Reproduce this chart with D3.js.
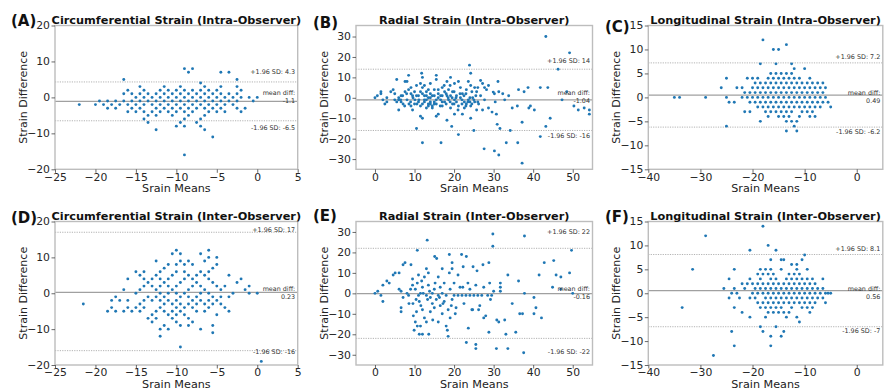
<!DOCTYPE html>
<html><head><meta charset="utf-8">
<script src="https://cdn.jsdelivr.net/npm/d3@7"></script>
<style>body{margin:0;background:#fff}svg text{font-family:"DejaVu Sans",sans-serif}</style>
</head><body><svg id="c" width="885" height="392"></svg>
<script>
// ---------------- DATA ----------------
const panelLetters = ["(A)","(B)","(C)","(D)","(E)","(F)"];
const panelTitles = [
  "Circumferential Strain (Intra-Observer)",
  "Radial Strain (Intra-Observer)",
  "Longitudinal Strain (Intra-Observer)",
  "Circumferential Strain (Inter-Observer)",
  "Radial Strain (Inter-Observer)",
  "Longitudinal Strain (Inter-Observer)"
];
const xAxisLabel = "Srain Means";
const yAxisLabel = "Strain Difference";
const meanDiffs = [-1.1, -1.04, 0.49, 0.23, -0.16, 0.56];
const upperLoA  = [4.3, 14, 7.2, 17, 22, 8.1];
const lowerLoA  = [-6.5, -16, -6.2, -16, -22, -7];
const meanLabels  = ["-1.1", "-1.04", "0.49", "0.23", "-0.16", "0.56"];
const upperLabels = ["+1.96 SD: 4.3", "+1.96 SD: 14", "+1.96 SD: 7.2", "+1.96 SD: 17", "+1.96 SD: 22", "+1.96 SD: 8.1"];
const lowerLabels = ["-1.96 SD: -6.5", "-1.96 SD: -16", "-1.96 SD: -6.2", "-1.96 SD: -16", "-1.96 SD: -22", "-1.96 SD: -7"];

const xTicksCirc = [-25, -20, -15, -10, -5, 0, 5];
const yTicksCirc = [-20, -10, 0, 10, 20];
const xTicksRad  = [0, 10, 20, 30, 40, 50];
const yTicksRad  = [-30, -20, -10, 0, 10, 20, 30];
const xTicksLong = [-40, -30, -20, -10, 0];
const yTicksLong = [-15, -10, -5, 0, 5, 10, 15];

// (mean, difference) pairs
const pointsA = [[-22,-2],[-20,-2],[-19.5,-1],[-19,-2],[-18.5,-1],[-18.5,-3],[-18,-2],[-17.5,-1],[-17.5,-3],[-17,-2],
[-16.5,5],[-16.5,1],[-16.5,-1],[-16,2],[-16,-2],[-16,-4],[-15.5,1],[-15.5,-1],[-15.5,-3],[-15,0],[-15,-2],[-15,-4],
[-14.5,3],[-14.5,1],[-14.5,-1],[-14.5,-3],[-14,2],[-14,0],[-14,-2],[-14,-4],[-14,-6],[-13.5,1],[-13.5,-1],[-13.5,-5],[-13.5,-7],
[-13,0],[-13,-2],[-13,-4],[-12.5,1],[-12.5,-1],[-12.5,-3],[-12.5,-5],[-12.5,-9],[-12,2],[-12,0],[-12,-2],[-12,-4],
[-11.5,3],[-11.5,1],[-11.5,-1],[-11.5,-3],[-11,2],[-11,0],[-11,-2],[-11,-4],[-10.5,1],[-10.5,-1],[-10.5,-3],[-10.5,-5],
[-10,2],[-10,0],[-10,-2],[-10,-4],[-10,-8],[-9.5,3],[-9.5,1],[-9.5,-1],[-9.5,-3],[-9.5,-7],
[-9,8],[-9,2],[-9,0],[-9,-2],[-9,-4],[-9,-6],[-9,-8],[-9,-16],[-8.5,7],[-8.5,1],[-8.5,-1],[-8.5,-3],[-8.5,-5],
[-8,8],[-8,2],[-8,0],[-8,-2],[-8,-4],[-7.5,1],[-7.5,-1],[-7.5,-3],[-7.5,-7],[-7,4],[-7,2],[-7,0],[-7,-2],[-7,-6],[-7,-8],
[-6.5,3],[-6.5,1],[-6.5,-1],[-6.5,-3],[-6.5,-5],[-6.5,-9],[-6,2],[-6,0],[-6,-2],[-6,-4],[-5.5,1],[-5.5,-1],[-5.5,-3],[-5.5,-11],
[-5,2],[-5,0],[-5,-2],[-5,-4],[-4.5,7],[-4.5,3],[-4.5,1],[-4.5,-1],[-4.5,-3],[-4,0],[-4,-2],[-4,-4],[-3.5,7],[-3.5,1],[-3.5,-1],
[-3,0],[-3,-2],[-2.5,5],[-2.5,3],[-2.5,1],[-2.5,-1],[-2.5,-3],[-2,2],[-2,0],[-2,-4],[-1.5,-3],[-1,0],[-0.5,-1],[0,0]];

const pointsB = [[0,0],[0.6,1],[1.5,2],[1.5,3],[2,-1],[2.5,-3],[3,-2],[3,0],[4,3],[4.6,4],[5,-1],[5,2],[5.5,9],[5.5,-2],[6,-1],[6,-6],[6,0],
[6.6,1],[6.6,-2],[6.5,-1],[7,1],[7.1,-3],[7.5,-4],[7.6,3],[7.6,8],[8.1,8],[8,2],[8.1,-1],[8.5,11],[8.5,4],[8.6,-3],[9,-2],[9.1,5],[9.1,2],[9.1,-4],
[9.5,-6],[9.5,1],[9.6,0],[10,3],[10,-3],[10.1,-1],[10.5,1],[10.5,6],[10.5,-15],[10.6,-3],[11,-2],[11,1],[11.1,-1],[11.5,7],[11.5,3],[11.5,-4],[11.5,-9],
[11.8,12],[12,10],[12,5],[12,2],[12,-3],[12,-10],[12,-22],[12.5,-1],[12.5,-2],[12.5,1],[12.5,6],[13,1],[13,-5],[13,3],[13,-1],[13.5,4],[13.5,-3],[13.5,-4],[13.5,0],
[14,7],[14,0],[14,-2],[14,2],[14,-3],[14.5,-4],[14.5,1],[14.5,-5],[15,1],[15,-3],[15,-2],[15,4],[15.5,11],[15.5,9],[15.5,-1],[15.5,-3],[15.5,-9],
[16,4],[16,-8],[16,0],[16,2],[16.6,1],[16.6,-1],[16.5,-4],[16.7,-22],[17,5],[17,-4],[17,1],[17,-2],[17.6,3],[17.6,-2],[17.5,6],[18.2,8],[18.2,1],[18,-3],[18,2],[18.2,-11],
[18.6,4],[18.6,-1],[18.5,0],[19.1,10],[19.1,1],[19.1,-5],[19,-2],[19,6],[19.4,-14],[19.6,3],[19.6,-3],[19.5,0],[20.1,7],[20.1,-1],[20.1,-8],[20,-3],[20,3],
[20.6,1],[20.6,-2],[20.5,0],[21.1,8],[21.1,-4],[21.1,-18],[21,-6],[21.6,5],[21.6,0],[21.5,2],[22.1,2],[22.1,-8],[22,-1],[22,-3],[22.6,-2],[22.6,-5],[22.5,1],
[23.1,4],[23.1,-3],[23,-4],[23,2],[23.6,8],[23.6,-1],[23.5,-2],[23.9,16],[24.2,12],[24.2,6],[24.2,-4],[24.2,-10],[24,0],[24,-2],[24.7,0],[24.5,-3],[24.5,3],
[25,-16],[25.2,5],[25.2,-2],[25,-1],[25.7,3],[25.7,-6],[25.5,1],[26.2,-3],[26,-2],[26,5],[26.7,8.5],[26.7,1],[27.2,7],[27.2,-6],[27.6,-25],[27.7,5],[27.7,-1],
[28.2,4],[28.7,6],[28.7,-5],[29.6,-7],[29.9,2.8],[30.2,2],[30.2,-26],[30.4,-2],[30.7,-8],[30.9,-13],[31.1,8],[31.3,3],[31.3,-28],[31.6,-15],[32.3,2],[32.8,-1],
[33.2,-22],[33.8,1],[34.2,-16],[34.7,-5],[36,-4],[36.1,-22],[36.3,4],[37.2,-12],[37.2,-32],[37.7,3],[38.7,5],[38.9,-5],[39.3,-4],[40.3,-6],
[41.8,5],[41.8,-19],[43.2,30],[43.2,-14],[43.7,5],[44.3,-10],[46.3,14],[47.3,-1],[48.5,3],[49.2,22],[50.3,-4],[51.4,-6],[52.9,-5],[54.2,-6],[54.2,-8]];

const pointsC = [[-35,0],[-34,0],[-29,0],[-26,2],[-25,4],[-25,0],[-25,-6],[-24.5,-1],[-23.5,-1],[-23,2],[-22,2],[-22,0],[-21.5,1],[-21.5,-3],
[-21,4],[-21,0],[-20.5,1],[-20.5,-1],[-20.5,-3],[-20,4],[-20,2],[-20,0],[-19.5,3],[-19.5,1],[-19.5,-1],[-19,4],[-19,2],[-19,0],[-19,-2],
[-18.5,7],[-18.5,3],[-18.5,1],[-18.5,-1],[-18.5,-5],[-18,12],[-18,2],[-18,0],[-18,-2],[-17.5,3],[-17.5,1],[-17.5,-1],[-17.5,-3],
[-17,4],[-17,2],[-17,0],[-17,-2],[-17,-4],[-16.5,5],[-16.5,3],[-16.5,1],[-16.5,-1],[-16.5,-3],[-16,10],[-16,4],[-16,2],[-16,0],[-16,-2],
[-15.5,7],[-15.5,5],[-15.5,3],[-15.5,1],[-15.5,-1],[-15.5,-3],[-15,10],[-15,4],[-15,2],[-15,0],[-15,-2],[-15,-4],
[-14.5,5],[-14.5,3],[-14.5,1],[-14.5,-1],[-14.5,-3],[-14,4],[-14,2],[-14,0],[-14,-2],[-14,-4],
[-13.5,11],[-13.5,5],[-13.5,3],[-13.5,1],[-13.5,-1],[-13.5,-3],[-13.5,-5],[-13.5,-7],[-13,4],[-13,2],[-13,0],[-13,-2],[-13,-4],
[-12.5,7],[-12.5,5],[-12.5,3],[-12.5,1],[-12.5,-1],[-12.5,-3],[-12.5,-5],[-12,6],[-12,4],[-12,2],[-12,0],[-12,-2],[-12,-6],
[-11.5,3],[-11.5,1],[-11.5,-1],[-11.5,-5],[-11.5,-7],[-11,4],[-11,2],[-11,0],[-11,-2],[-11,-4],[-10.5,3],[-10.5,1],[-10.5,-1],[-10.5,-3],
[-10,6],[-10,2],[-10,0],[-10,-2],[-9.5,3],[-9.5,1],[-9.5,-1],[-9.5,-3],[-9,4],[-9,2],[-9,0],[-9,-2],[-9,-4],
[-8.5,3],[-8.5,1],[-8.5,-1],[-8.5,-3],[-8,2],[-8,0],[-8,-2],[-8,-4],[-7.5,3],[-7.5,1],[-7.5,-1],[-7,2],[-7,0],[-7,-2],
[-6.5,3],[-6.5,1],[-6.5,-1],[-6,2],[-6,0],[-5.5,-1],[-5,-2]];

const pointsD = [[-21.5,-3],[-18.5,-5],[-18,-2],[-18,-4],[-17.5,-1],[-17.5,-5],[-17,-2],[-16.5,1],[-16.5,-5],[-16,4],[-16,-2],[-16,-4],[-15.5,-5],
[-15,6],[-15,0],[-15,-4],[-14.5,5],[-14.5,1],[-14.5,-3],[-14.5,-5],[-14,6],[-14,4],[-14,2],[-14,-2],[-14,-4],[-13.5,3],[-13.5,-1],[-13.5,-7],
[-13,4],[-13,2],[-13,-2],[-13,-6],[-13,-8],[-12.5,9],[-12.5,5],[-12.5,1],[-12.5,-1],[-12.5,-5],[-12.5,-7],
[-12,6],[-12,4],[-12,2],[-12,0],[-12,-2],[-12,-4],[-12,-10],[-12,-12],[-11.5,7],[-11.5,3],[-11.5,-1],[-11.5,-3],[-11.5,-5],[-11.5,-9],
[-11,8],[-11,4],[-11,2],[-11,0],[-11,-2],[-11,-6],[-11,-10],[-10.5,11],[-10.5,5],[-10.5,1],[-10.5,-3],[-10.5,-5],[-10.5,-7],
[-10,12],[-10,8],[-10,6],[-10,2],[-10,0],[-10,-2],[-10,-4],[-10,-6],[-10,-8],[-9.5,11],[-9.5,9],[-9.5,3],[-9.5,-1],[-9.5,-3],[-9.5,-5],[-9.5,-9],[-9.5,-15],
[-9,8],[-9,6],[-9,4],[-9,0],[-9,-4],[-9,-6],[-8.5,9],[-8.5,5],[-8.5,1],[-8.5,-1],[-8.5,-3],[-8.5,-7],[-8.5,-9],
[-8,8],[-8,4],[-8,2],[-8,-2],[-8,-4],[-8,-8],[-7.5,5],[-7.5,3],[-7.5,-1],[-7.5,-3],[-7.5,-5],
[-7,11],[-7,6],[-7,2],[-7,0],[-7,-2],[-7,-10],[-6.5,9],[-6.5,5],[-6.5,1],[-6.5,-3],[-6.5,-5],
[-6,12],[-6,10],[-6,6],[-6,4],[-6,0],[-6,-2],[-6,-4],[-5.5,7],[-5.5,3],[-5.5,-1],[-5.5,-3],[-5.5,-9],[-5.5,-11],
[-5,10],[-5,8],[-5,2],[-5,-2],[-5,-6],[-4.5,1],[-4.5,-1],[-4.5,-3],[-4,2],[-4,-4],[-3.5,5],[-3.5,-1],[-3.5,-5],
[-3,0],[-2.5,3],[-2,4],[-1.5,1],[-1,2],[-1,0],[0,0],[0.5,-19]];

const pointsE = [[0,0],[0.7,1],[1.5,-1],[2,-4],[2,4],[3,6],[3.6,5],[4.6,9],[5.1,10],[6.1,10],[6.6,-7],[6.6,-9],[6.1,2],[6.6,1],[7.1,14],[7.6,15],
[7.1,-2],[8.1,0],[8.6,-5],[8.5,-1],[9.1,14],[9.5,7],[9.5,4],[9.7,-11],[9.9,-18],[9.6,-5],[9,2],[10.2,-14],[10.2,2],[10.7,21],[10.7,5],[10.7,-16],
[10.5,-9],[10.4,-3],[11,9],[11,-1],[11.2,-20],[11.2,-4],[11.5,-16],[11.5,0],[11.8,6],[11.6,-6],[12,-20],[12,-8],[12,3],[12.2,0],[12.5,-12],[12.5,8],
[13,12],[13.2,26],[13,-14],[13,-1],[13.3,-3],[13.6,-20],[13.5,10],[13.5,4],[13.8,1],[14,-2],[14,-9],[14.5,0],[14.5,-5],[14.6,-13],[15.1,18],[15.6,17],
[15,-7],[15,2],[15.5,-3],[15.2,5],[16,8],[16,-1],[16,-14],[16.5,3],[16.5,-6],[16.3,-2],[17,12],[17,0],[17,-10],[17.2,-5],[17.5,-4],[17.5,5],
[18,-1],[18,-16],[18.5,-21],[18.5,-8],[18.3,-18],[18.8,19],[18.8,10],[19,2],[19,-12],[19.3,-6],[19.5,15],[19.5,12],[19.5,-3],[20,-1],[20,5],
[20.5,-7],[20.3,-10],[21,-1],[21,9],[21.5,3],[21.9,19],[22,-1],[22.3,13],[22.5,-5],[22.2,3],[23.1,18],[23,-1],[23.1,-24],[23.6,-17],[23.5,5],
[24,-1],[24,2],[24.5,-8],[24.8,13],[24.7,-8],[25,-1],[25.5,-25],[25.5,-27],[25.8,11],[25.5,4],[26,-1],[26.5,-6],[26.2,-8],[27.3,14],[27,-1],
[27.5,3],[27.5,-12],[28,-11],[28.8,15],[28.8,-19],[28.5,-1],[29,5],[29.2,-3],[29.8,29],[29.8,23],[29.5,-1],[30,1],[30.7,-27],[30.8,-13],
[31.3,-14],[31.7,5],[31.7,3],[31.7,1],[32.8,-13],[33.1,-20],[33.6,9],[33.6,-27],[34.7,-5],[35.6,-19],[36.3,6],[36.6,-10],[37.3,-10],
[37.6,-29],[37.8,28],[37.8,0],[40.2,-2],[40.7,-7],[40.2,-10],[41.5,9],[42.1,-12],[42.8,15],[44.9,3],[45.2,16],[45.8,9],[47,8],[47,2],
[49.2,10],[49.7,21],[50,0]];

const pointsF = [[-33.5,-3],[-31.5,5],[-29,12],[-27.5,-13],[-25.5,1],[-24.5,3],[-24.5,-1],[-24,0],[-24,-8],[-23.5,5],[-23.5,1],[-23.5,-3],[-23.5,-11],
[-23,0],[-22.5,-1],[-22,2],[-22,-4],[-21.5,1],[-21,2],[-20.5,9],[-20.5,3],[-20.5,-1],[-20.5,-5],[-20,2],[-20,0],[-19.5,1],[-19.5,-1],
[-19,4],[-19,2],[-19,0],[-19,-2],[-18.5,5],[-18.5,3],[-18.5,1],[-18.5,-3],[-18.5,-7],[-18,14],[-18,4],[-18,2],[-18,0],[-18,-2],[-18,-8],
[-17.5,5],[-17.5,1],[-17.5,-1],[-17.5,-3],[-17.5,-5],[-17,10],[-17,4],[-17,2],[-17,0],[-17,-2],[-17,-4],
[-16.5,7],[-16.5,5],[-16.5,3],[-16.5,1],[-16.5,-1],[-16.5,-3],[-16.5,-9],[-16.5,-11],[-16,4],[-16,2],[-16,0],[-16,-2],[-16,-4],
[-15.5,9],[-15.5,3],[-15.5,1],[-15.5,-1],[-15.5,-3],[-15.5,-7],[-15,2],[-15,0],[-15,-2],[-15,-4],
[-14.5,7],[-14.5,5],[-14.5,1],[-14.5,-1],[-14.5,-3],[-14.5,-9],[-14,7],[-14,2],[-14,0],[-14,-2],[-14,-4],[-14,-8],
[-13.5,3],[-13.5,1],[-13.5,-1],[-13.5,-5],[-13,4],[-13,2],[-13,0],[-13,-2],[-13,-4],[-12.5,6],[-12.5,3],[-12.5,1],[-12.5,-1],[-12.5,-3],
[-12,4],[-12,2],[-12,0],[-12,-2],[-11.5,6],[-11.5,5],[-11.5,3],[-11.5,1],[-11.5,-1],[-11.5,-5],[-11,4],[-11,2],[-11,0],[-11,-2],[-11,-6],
[-10.5,7],[-10.5,3],[-10.5,1],[-10.5,-1],[-10.5,-3],[-10,8],[-10,2],[-10,0],[-10,-2],[-9.5,5],[-9.5,3],[-9.5,1],[-9.5,-1],[-9.5,-3],
[-9,2],[-9,0],[-9,-2],[-9,-4],[-8.5,3],[-8.5,1],[-8.5,-1],[-8.5,-3],[-8,2],[-8,0],[-8,-2],[-7.5,1],[-7.5,-1],[-7,0],
[-6.5,3],[-6.5,1],[-6.5,-1],[-6,0],[-6,-2],[-5.5,0],[-5,0]];

// ---------------- LAYOUT ----------------
const rowBox = [{top: 25.5, bottom: 169.3}, {top: 221.5, bottom: 365}];
const colBox = [{left: 55, right: 297.7}, {left: 356, right: 592.5}, {left: 648.3, right: 882.8}];
const colDomains = [
  {x: [-25, 5], xt: xTicksCirc},
  {x: [-4.8, 55], xt: xTicksRad},
  {x: [-40, 5], xt: xTicksLong}
];
const yDomains = [[-20, 20], [-35.0, 35.4], [-15, 15], [-20, 20], [-35.0, 35.1], [-15, 15]];
const yTickSets = [yTicksCirc, yTicksRad, yTicksLong, yTicksCirc, yTicksRad, yTicksLong];
const allPoints = [pointsA, pointsB, pointsC, pointsD, pointsE, pointsF];
// annotation text centres (data units)
const upperTextAt = [7.2, 17.9, 8.5, 17.6, 30, 9.2];
const lowerTextAt = [-8.4, -18.9, -7.3, -16.3, -28.7, -7.9];
const letterPos = [[11, 25.5], [313, 28], [605, 31.5], [11, 222.5], [313, 221], [605, 222]];

const svg = d3.select("#c");
const FONT = '"DejaVu Sans", sans-serif';

for (let i = 0; i < 6; i++) {
  const r = Math.floor(i / 3), c = i % 3;
  const box = {...rowBox[r], ...colBox[c]};
  const x = d3.scaleLinear().domain(colDomains[c].x).range([box.left, box.right]);
  const y = d3.scaleLinear().domain(yDomains[i]).range([box.bottom, box.top]);
  const g = svg.append("g");

  // reference lines
  g.append("line").attr("x1", box.left).attr("x2", box.right)
    .attr("y1", y(meanDiffs[i])).attr("y2", y(meanDiffs[i]))
    .attr("stroke", "#a0a0a0").attr("stroke-width", 1.2);
  [upperLoA[i], lowerLoA[i]].forEach(v => {
    g.append("line").attr("x1", box.left).attr("x2", box.right)
      .attr("y1", y(v)).attr("y2", y(v))
      .attr("stroke", "#a0a0a0").attr("stroke-width", 0.8).attr("stroke-dasharray", "1.2,1.2");
  });

  // points
  g.append("g").selectAll("circle").data(allPoints[i]).join("circle")
    .attr("cx", d => x(d[0])).attr("cy", d => y(d[1])).attr("r", 1.45)
    .attr("fill", "#1f77b4");

  // frame
  g.append("rect").attr("x", box.left).attr("y", box.top)
    .attr("width", box.right - box.left).attr("height", box.bottom - box.top)
    .attr("fill", "none").attr("stroke", "#bdbdbd").attr("stroke-width", 1.4);

  // axes
  const fmt = d => (d < 0 ? "\u2212" + Math.abs(d) : "" + d);
  const xa = g.append("g").attr("transform", `translate(0,${box.bottom})`)
    .call(d3.axisBottom(x).tickValues(colDomains[c].xt).tickFormat(fmt).tickSize(3.5).tickPadding(0.3));
  const ya = g.append("g").attr("transform", `translate(${box.left},0)`)
    .call(d3.axisLeft(y).tickValues(yTickSets[i]).tickFormat(fmt).tickSize(3.5).tickPadding(1.5));
  [xa, ya].forEach(a => {
    a.select(".domain").remove();
    a.selectAll(".tick line").attr("stroke", "#444").attr("stroke-width", 0.8);
    a.selectAll(".tick text").attr("fill", "#262626").style("font-size", "10.8px").style("font-family", FONT);
  });

  // annotations
  const ax = box.right - 2.5;
  const mid = (box.top + box.bottom) / 2;
  const ann = (txt, yy) => g.append("text").attr("x", ax).attr("y", yy)
    .attr("text-anchor", "end").attr("dominant-baseline", "central")
    .attr("fill", "#333").style("font-size", "6.4px").text(txt);
  ann(upperLabels[i], y(upperTextAt[i]));
  ann(lowerLabels[i], y(lowerTextAt[i]));
  ann("mean diff:", mid - 4.2);
  ann(meanLabels[i], mid + 3.6);

  // labels
  g.append("text").attr("x", (box.left + box.right) / 2).attr("y", box.top - 1.9)
    .attr("text-anchor", "middle").attr("font-weight", "bold").attr("fill", "#111")
    .style("font-size", "11.3px").text(panelTitles[i]);
  g.append("text").attr("x", (box.left + box.right) / 2).attr("y", box.bottom + 23)
    .attr("text-anchor", "middle").attr("fill", "#222").style("font-size", "11.2px").text(xAxisLabel);
  g.append("text").attr("transform", `translate(${box.left - 32},${mid}) rotate(-90)`)
    .attr("text-anchor", "middle").attr("dominant-baseline", "central")
    .attr("fill", "#222").style("font-size", "11px").text(yAxisLabel);
  g.append("text").attr("x", letterPos[i][0]).attr("y", letterPos[i][1])
    .attr("font-weight", "bold").attr("fill", "#111").style("font-size", "15px").text(panelLetters[i]);
}
</script></body></html>
